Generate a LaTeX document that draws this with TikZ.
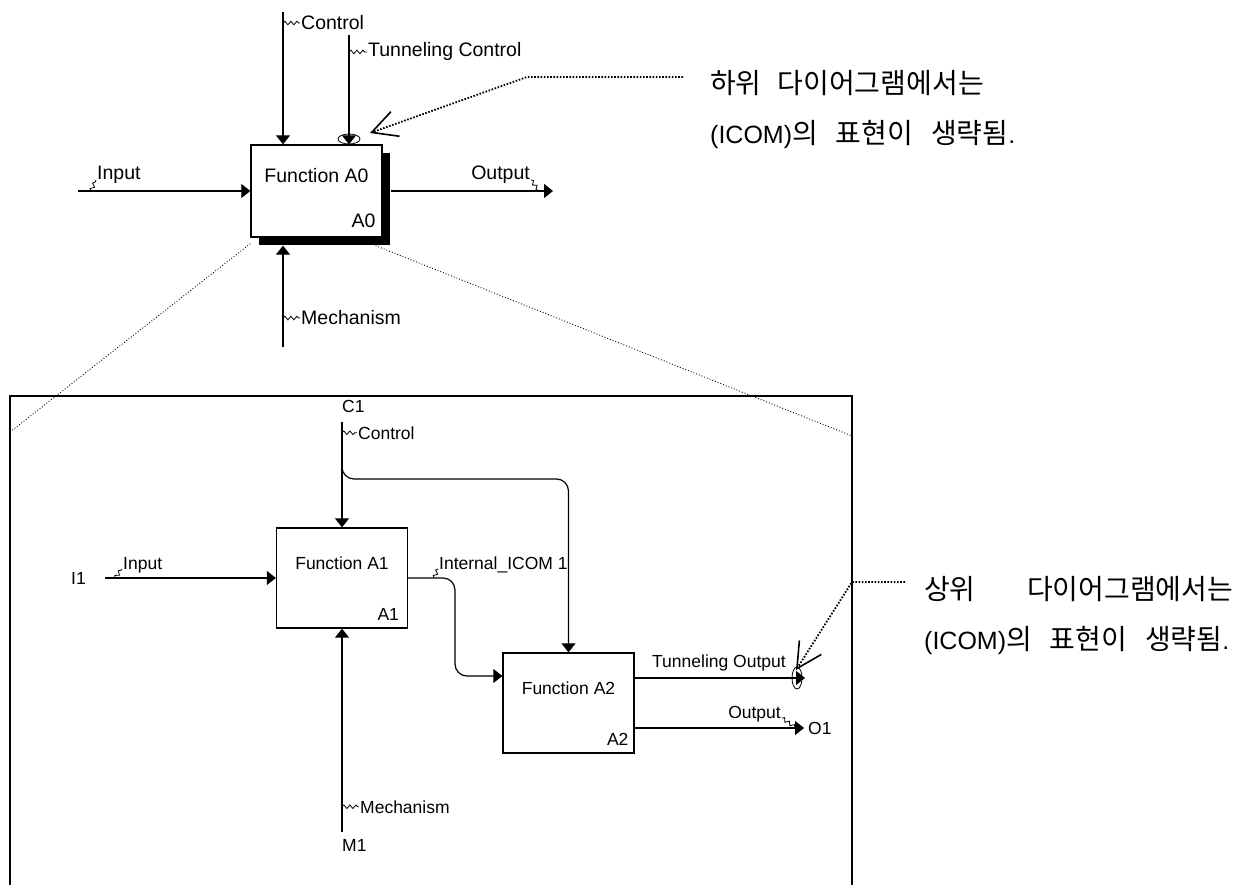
\documentclass[tikz,border=0pt]{standalone}
\usepackage{fontspec}
\setmainfont{Liberation Sans}
\newfontfamily\kr{Noto Sans CJK KR}
\usetikzlibrary{arrows.meta,positioning,shadows,decorations.pathmorphing}
\newcommand{\kor}[1]{{\kr\fontsize{28}{30}\selectfont #1}}

\begin{document}
\begin{tikzpicture}[x=1pt,y=-1pt,
        fbox/.style={draw=black,line width=1.3pt,fill=white,minimum width=131pt,minimum height=100pt,inner sep=0pt},
        big/.style={font=\fontsize{19.5}{22}\selectfont,inner sep=1pt},
        sml/.style={font=\fontsize{17.5}{20}\selectfont,inner sep=1pt},
        arr/.style={-{Triangle[length=9pt,width=14pt]},line width=1.2pt},
        squig/.style={line width=0.8pt,decorate,decoration={snake,amplitude=1.8pt,segment length=6pt}},
        tun/.style={line width=0.8pt},
        zoomln/.style={line width=0.9pt,dotted},
        callout/.style={line width=1.8pt,dash pattern=on 1.6pt off 1.6pt,
          -{Straight Barb[length=25pt,width=26pt,line width=1.6pt]}},
        note/.style={font=\fontsize{25}{30}\selectfont,inner sep=0pt},
        frame/.style={line width=2pt}]
        \useasboundingbox (0,0) rectangle (1259,885);
        % upper level: A0
        \node[fbox,minimum height=92pt,drop shadow={shadow xshift=8pt,shadow yshift=-8pt,fill=black,opacity=1}](A0) at (316.5,191){};
        \node[big,anchor=base] at ([yshift=-38pt]A0.north){Function A0};
        \node[big,anchor=base east] at ([shift={(-6pt,10pt)}]A0.south east){A0};
        \coordinate (ctl0) at (283,12);
        \coordinate (tcl0) at (349,35);
        \coordinate (inp0) at (78,191);
        \coordinate (out0) at (553,191);
        \coordinate (mec0) at (283,347);
        \coordinate (shb) at ([yshift=-8pt]A0.south);
        \draw[arr](ctl0)--(ctl0 |- A0.north);
        \draw[arr](tcl0)--(tcl0 |- A0.north);
        \draw[arr](inp0)--(A0.west);
        \draw[arr]([xshift=8pt]A0.east)--(out0);
        \draw[arr](mec0)--(mec0 |- shb);
        \node[big,anchor=base west](ctlL) at (300,30){Control};
        \node[big,anchor=base west](tclL) at (367,57){Tunneling Control};
        \node[big,anchor=base west](inpL) at (96,180){Input};
        \node[big,anchor=base east](outL) at (531,180){Output};
        \node[big,anchor=base west](mecL) at (300,325){Mechanism};
        \draw[squig](ctl0 |- ctlL.west)--(ctlL.west);
        \draw[squig](tcl0 |- tclL.west)--(tclL.west);
        \draw[squig]([xshift=13pt]inp0)--(inpL.base west);
        \draw[squig](outL.base east)--([xshift=-14pt]out0);
        \draw[squig](mec0 |- mecL.west)--(mecL.west);
        \draw[tun](349,139) ellipse [x radius=11pt,y radius=5pt];
        % note 1
        \node[note,anchor=base west](hw1) at (710,94){\kor{하위}\hspace{16pt}\kor{다이어그램에서는}};
        \node[note,anchor=base west](hw2) at (710,144){(ICOM)\kor{의}\hspace{18pt}\kor{표현이}\hspace{18pt}\kor{생략됨}.};
        \coordinate (cs1) at (683,77);
        \coordinate (cl1) at (527,77);
        \coordinate (tp1) at (370,133);
        \draw[callout](cs1)--(cl1)--(tp1);
        % zoom lines + frame
        \coordinate (zl) at (10,432);
        \coordinate (zr) at (852,436);
        \draw[zoomln]([yshift=-6pt]A0.south west)--(zl);
        \draw[zoomln]([shift={(-7pt,-8pt)}]A0.south east)--(zr);
        \draw[frame](10,885) |- (852,396) -- (852,885);
        % lower level: A1, A2
        \node[fbox](A1) at (342,578){};
        \node[sml,anchor=base] at ([yshift=-42pt]A1.north){Function A1};
        \node[sml,anchor=base east] at ([shift={(-8pt,8pt)}]A1.south east){A1};
        \node[fbox](A2) at (568.5,703){};
        \node[sml,anchor=base] at ([yshift=-42pt]A2.north){Function A2};
        \node[sml,anchor=base east] at ([shift={(-5pt,8pt)}]A2.south east){A2};
        \coordinate (c1) at (342,422);
        \coordinate (brc) at (342,455);
        \coordinate (brh) at (450,479);
        \coordinate (i1) at (105,578);
        \coordinate (icm) at (455,630);
        \coordinate (to1) at (805,678);
        \coordinate (o1) at (804,728);
        \coordinate (m1) at (342,832);
        \node[sml,anchor=base west](C1) at (341,413){C1};
        \node[sml,left=18pt of i1](I1){I1};
        \node[sml,right=3pt of o1](O1){O1};
        \node[sml,anchor=base west](M1) at (341,851){M1};
        \draw[arr](c1)--(A1.north);
        \draw[arr,rounded corners=12pt](brc) |- (brh) -| (A2.north);
        \draw[arr](i1)--(A1.west);
        \draw[arr,rounded corners=12pt](A1.east) -| (icm) |- ([yshift=27pt]A2.west);
        \draw[arr]([yshift=25pt]A2.east)--(to1);
        \draw[arr]([yshift=-25pt]A2.east)--(o1);
        \draw[arr](m1)--(A1.south);
        \node[sml,anchor=base west](ctl1L) at (357,439){Control};
        \node[sml,anchor=base west](inp1L) at (122,569){Input};
        \node[sml,anchor=base west](icmL) at (438,569){Internal\_ICOM 1};
        \node[sml,anchor=base east](toL) at (787,667){Tunneling Output};
        \node[sml,anchor=base east](outL1) at (782,718){Output};
        \node[sml,anchor=base west](mecL1) at (359,813){Mechanism};
        \draw[squig](c1 |- ctl1L.west)--(ctl1L.west);
        \draw[squig]([xshift=10pt]i1)--(inp1L.base west);
        \draw[squig]([xshift=26pt]A1.east)--(icmL.base west);
        \draw[squig](outL1.base east)--([xshift=-8pt]o1);
        \draw[squig](m1 |- mecL1.west)--(mecL1.west);
        \draw[tun](797,678) ellipse [x radius=5pt,y radius=11pt];
        % note 2
        \node[note,anchor=base west](sw1) at (924,599){\hbox to 309pt{\kor{상위}\hfil\kor{다이어그램에서는}}};
        \node[note,anchor=base west](sw2) at (924,649){(ICOM)\kor{의}\hspace{18pt}\kor{표현이}\hspace{18pt}\kor{생략됨}.};
        \coordinate (cs2) at (905,582);
        \coordinate (cl2) at (852,582);
        \coordinate (tp2) at (796,670);
        \draw[callout](cs2)--(cl2)--(tp2);
      \end{tikzpicture}
\end{document}
